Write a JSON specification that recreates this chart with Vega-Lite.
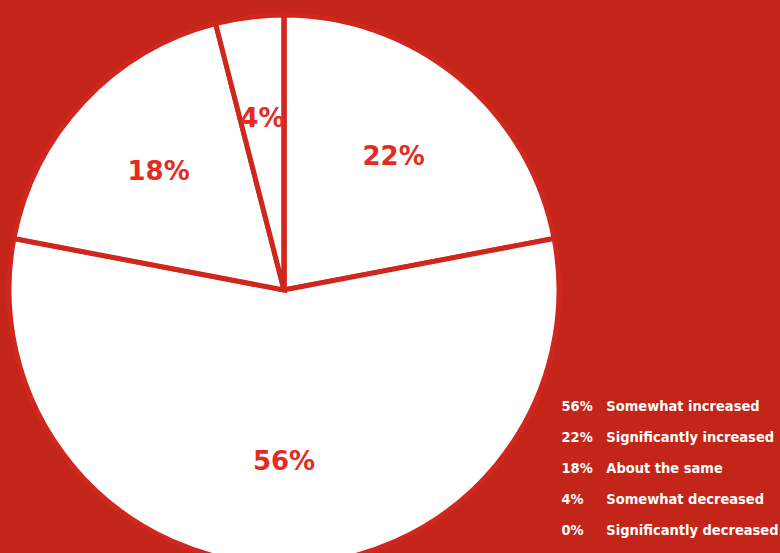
{
  "$schema": "https://vega.github.io/schema/vega-lite/v6.json",
  "width": 568,
  "height": 526,
  "autosize": {"type": "none"},
  "padding": {"left": 0, "top": 27, "right": 212, "bottom": 0},
  "background": "#c42519",
  "config": {"view": {"stroke": null}},
  "data": {
    "values": [
      {"category": "Significantly increased", "value": 22, "slice": 1, "label": "22%", "legend": "22%\u00a0\u00a0\u00a0Significantly increased"},
      {"category": "Somewhat increased", "value": 56, "slice": 2, "label": "56%", "legend": "56%\u00a0\u00a0\u00a0Somewhat increased"},
      {"category": "About the same", "value": 18, "slice": 3, "label": "18%", "legend": "18%\u00a0\u00a0\u00a0About the same"},
      {"category": "Somewhat decreased", "value": 4, "slice": 4, "label": "4%", "legend": "4%\u00a0\u00a0\u00a0\u00a0\u00a0Somewhat decreased"},
      {"category": "Significantly decreased", "value": 0, "slice": 5, "label": "0%", "legend": "0%\u00a0\u00a0\u00a0\u00a0\u00a0Significantly decreased"}
    ]
  },
  "encoding": {
    "theta": {"field": "value", "type": "quantitative", "stack": true},
    "order": {"field": "slice", "type": "quantitative"}
  },
  "layer": [
    {
      "mark": {"type": "arc", "outerRadius": 275, "stroke": "#cf271d", "strokeWidth": 5},
      "encoding": {
        "color": {
          "field": "legend",
          "type": "nominal",
          "sort": [
            "56%\u00a0\u00a0\u00a0Somewhat increased",
            "22%\u00a0\u00a0\u00a0Significantly increased",
            "18%\u00a0\u00a0\u00a0About the same",
            "4%\u00a0\u00a0\u00a0\u00a0\u00a0Somewhat decreased",
            "0%\u00a0\u00a0\u00a0\u00a0\u00a0Significantly decreased"
          ],
          "scale": {"range": ["#ffffff"]},
          "legend": {
            "orient": "none",
            "legendX": 547,
            "legendY": 373,
            "title": null,
            "labelFont": "DejaVu Sans Condensed, sans-serif",
            "labelFontSize": 14.5,
            "labelFontWeight": "bold",
            "labelColor": "#ffffff",
            "labelLimit": 400,
            "labelOffset": 0,
            "symbolSize": 0,
            "symbolOpacity": 0,
            "symbolStrokeWidth": 0,
            "rowPadding": 16,
            "padding": 0
          }
        }
      }
    },
    {
      "transform": [{"filter": "datum.value > 0"}],
      "mark": {"type": "text", "radius": 172, "fontSize": 26, "fontWeight": "bold", "font": "DejaVu Sans", "fill": "#e32b22"},
      "encoding": {
        "text": {"field": "label", "type": "nominal"}
      }
    }
  ]
}
